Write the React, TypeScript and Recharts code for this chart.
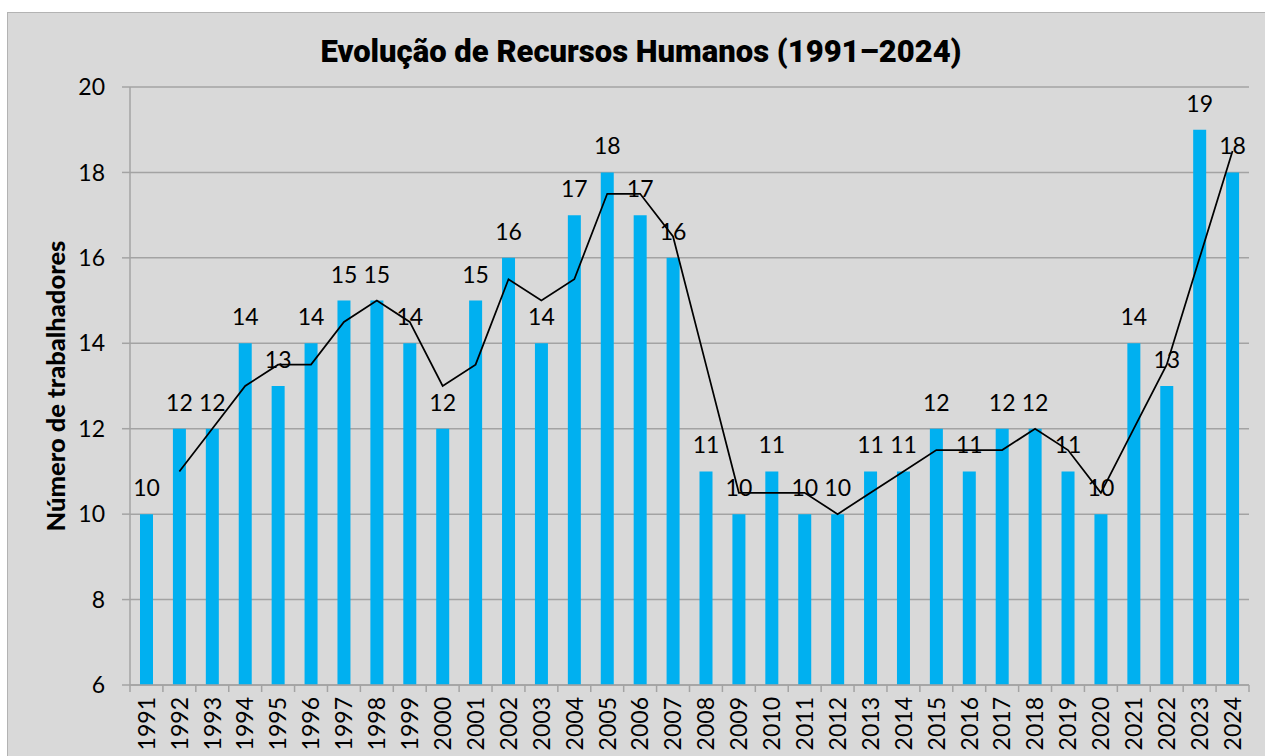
import React from 'react';
import { ComposedChart, Bar, Line, XAxis, YAxis, CartesianGrid, LabelList } from 'recharts';

const YEARS = [
  '1991','1992','1993','1994','1995','1996','1997','1998','1999','2000',
  '2001','2002','2003','2004','2005','2006','2007','2008','2009','2010',
  '2011','2012','2013','2014','2015','2016','2017','2018','2019','2020',
  '2021','2022','2023','2024',
];
const WORKERS = [
  10, 12, 12, 14, 13, 14, 15, 15, 14, 12,
  15, 16, 14, 17, 18, 17, 16, 11, 10, 11,
  10, 10, 11, 11, 12, 11, 12, 12, 11, 10,
  14, 13, 19, 18,
];
// trend line (2-period moving average as drawn in the picture)
const TREND: (number | null)[] = [
  null, 11, 12, 13, 13.5, 13.5, 14.5, 15, 14.5, 13,
  13.5, 15.5, 15, 15.5, 17.5, 17.5, 16.5, 13.5, 10.5, 10.5,
  10.5, 10, 10.5, 11, 11.5, 11.5, 11.5, 12, 11.5, 10.5,
  12, 13.5, 16, 18.5,
];
const Y_TICKS = [6, 8, 10, 12, 14, 16, 18, 20];

const TITLE = 'Evolução de Recursos Humanos (1991–2024)';
const Y_LABEL = 'Número de trabalhadores';

const data = YEARS.map((year, i) => ({ year, workers: WORKERS[i], trend: TREND[i] }));

const W = 1265;
const H = 756;
const PLOT_LEFT = 130;
const PLOT_RIGHT = 1249;
const BAND = (PLOT_RIGHT - PLOT_LEFT) / YEARS.length;
const FONT = 'Lato, "Noto Sans", sans-serif';
const GRID = '#a3a3a3';

function XTick(props: any) {
  const { x, y, payload, index } = props;
  return (
    <g>
      <line x1={x - BAND / 2} x2={x - BAND / 2} y1={y} y2={y + 7} stroke={GRID} strokeWidth={1.5} />
      {index === YEARS.length - 1 && (
        <line x1={x + BAND / 2} x2={x + BAND / 2} y1={y} y2={y + 7} stroke={GRID} strokeWidth={1.5} />
      )}
      <text
        transform={`translate(${x},${y + 12}) rotate(-90)`}
        textAnchor="end"
        dy="0.36em"
        fontSize={23}
        fontFamily={FONT}
        fill="#000"
      >
        {payload.value}
      </text>
    </g>
  );
}

export default function App() {
  return (
    <div style={{ position: 'absolute', left: 0, top: 0, width: W, height: H, overflow: 'hidden', background: '#fff' }}>
      <div
        style={{
          position: 'absolute',
          left: 7,
          top: 12,
          width: W,
          height: H,
          background: '#d9d9d9',
          border: '1.5px solid #b3b3b3',
        }}
      />
      <div
        style={{
          position: 'absolute',
          left: 0,
          top: 34,
          width: 1282,
          textAlign: 'center',
          fontFamily: 'Roboto, sans-serif',
          fontWeight: 900,
          fontSize: 31,
          lineHeight: '36px',
          color: '#000',
        }}
      >
        {TITLE}
      </div>
      <div style={{ position: 'absolute', left: 0, top: 0 }}>
        <ComposedChart
          width={W}
          height={H}
          data={data}
          margin={{ top: 87, right: W - PLOT_RIGHT, bottom: 0, left: 0 }}
        >
          <CartesianGrid yAxisId="left" vertical={false} stroke={GRID} strokeWidth={1.5} />
          <XAxis
            dataKey="year"
            height={H - 685}
            interval={0}
            tickSize={0}
            tickMargin={0}
            tickLine={false}
            axisLine={{ stroke: GRID, strokeWidth: 1.5 }}
            tick={<XTick />}
          />
          <YAxis
            yAxisId="left"
            width={PLOT_LEFT}
            domain={[6, 20]}
            ticks={Y_TICKS}
            interval={0}
            tickSize={8}
            tickMargin={17}
            axisLine={{ stroke: GRID, strokeWidth: 1.5 }}
            tickLine={{ stroke: GRID, strokeWidth: 1.5 }}
            tick={{ fill: '#000', fontSize: 23, fontFamily: FONT }}
            label={{
              value: Y_LABEL,
              angle: -90,
              position: 'center',
              dx: -9,
              style: { fontFamily: FONT, fontWeight: 900, fontSize: 25.5, fill: '#000', textAnchor: 'middle' },
            }}
          />
          <YAxis
            yAxisId="right"
            orientation="right"
            width={0}
            domain={[6, 20]}
            tick={false}
            tickLine={false}
            axisLine={{ stroke: GRID, strokeWidth: 1.5 }}
          />
          <Bar yAxisId="left" dataKey="workers" fill="#00b0f0" barSize={13} isAnimationActive={false}>
            <LabelList
              dataKey="workers"
              position="top"
              offset={18}
              style={{ fill: '#000', fontSize: 23, fontFamily: FONT }}
            />
          </Bar>
          <Line
            yAxisId="left"
            type="linear"
            dataKey="trend"
            stroke="#000"
            strokeWidth={1.75}
            dot={false}
            activeDot={false}
            isAnimationActive={false}
          />
        </ComposedChart>
      </div>
    </div>
  );
}
